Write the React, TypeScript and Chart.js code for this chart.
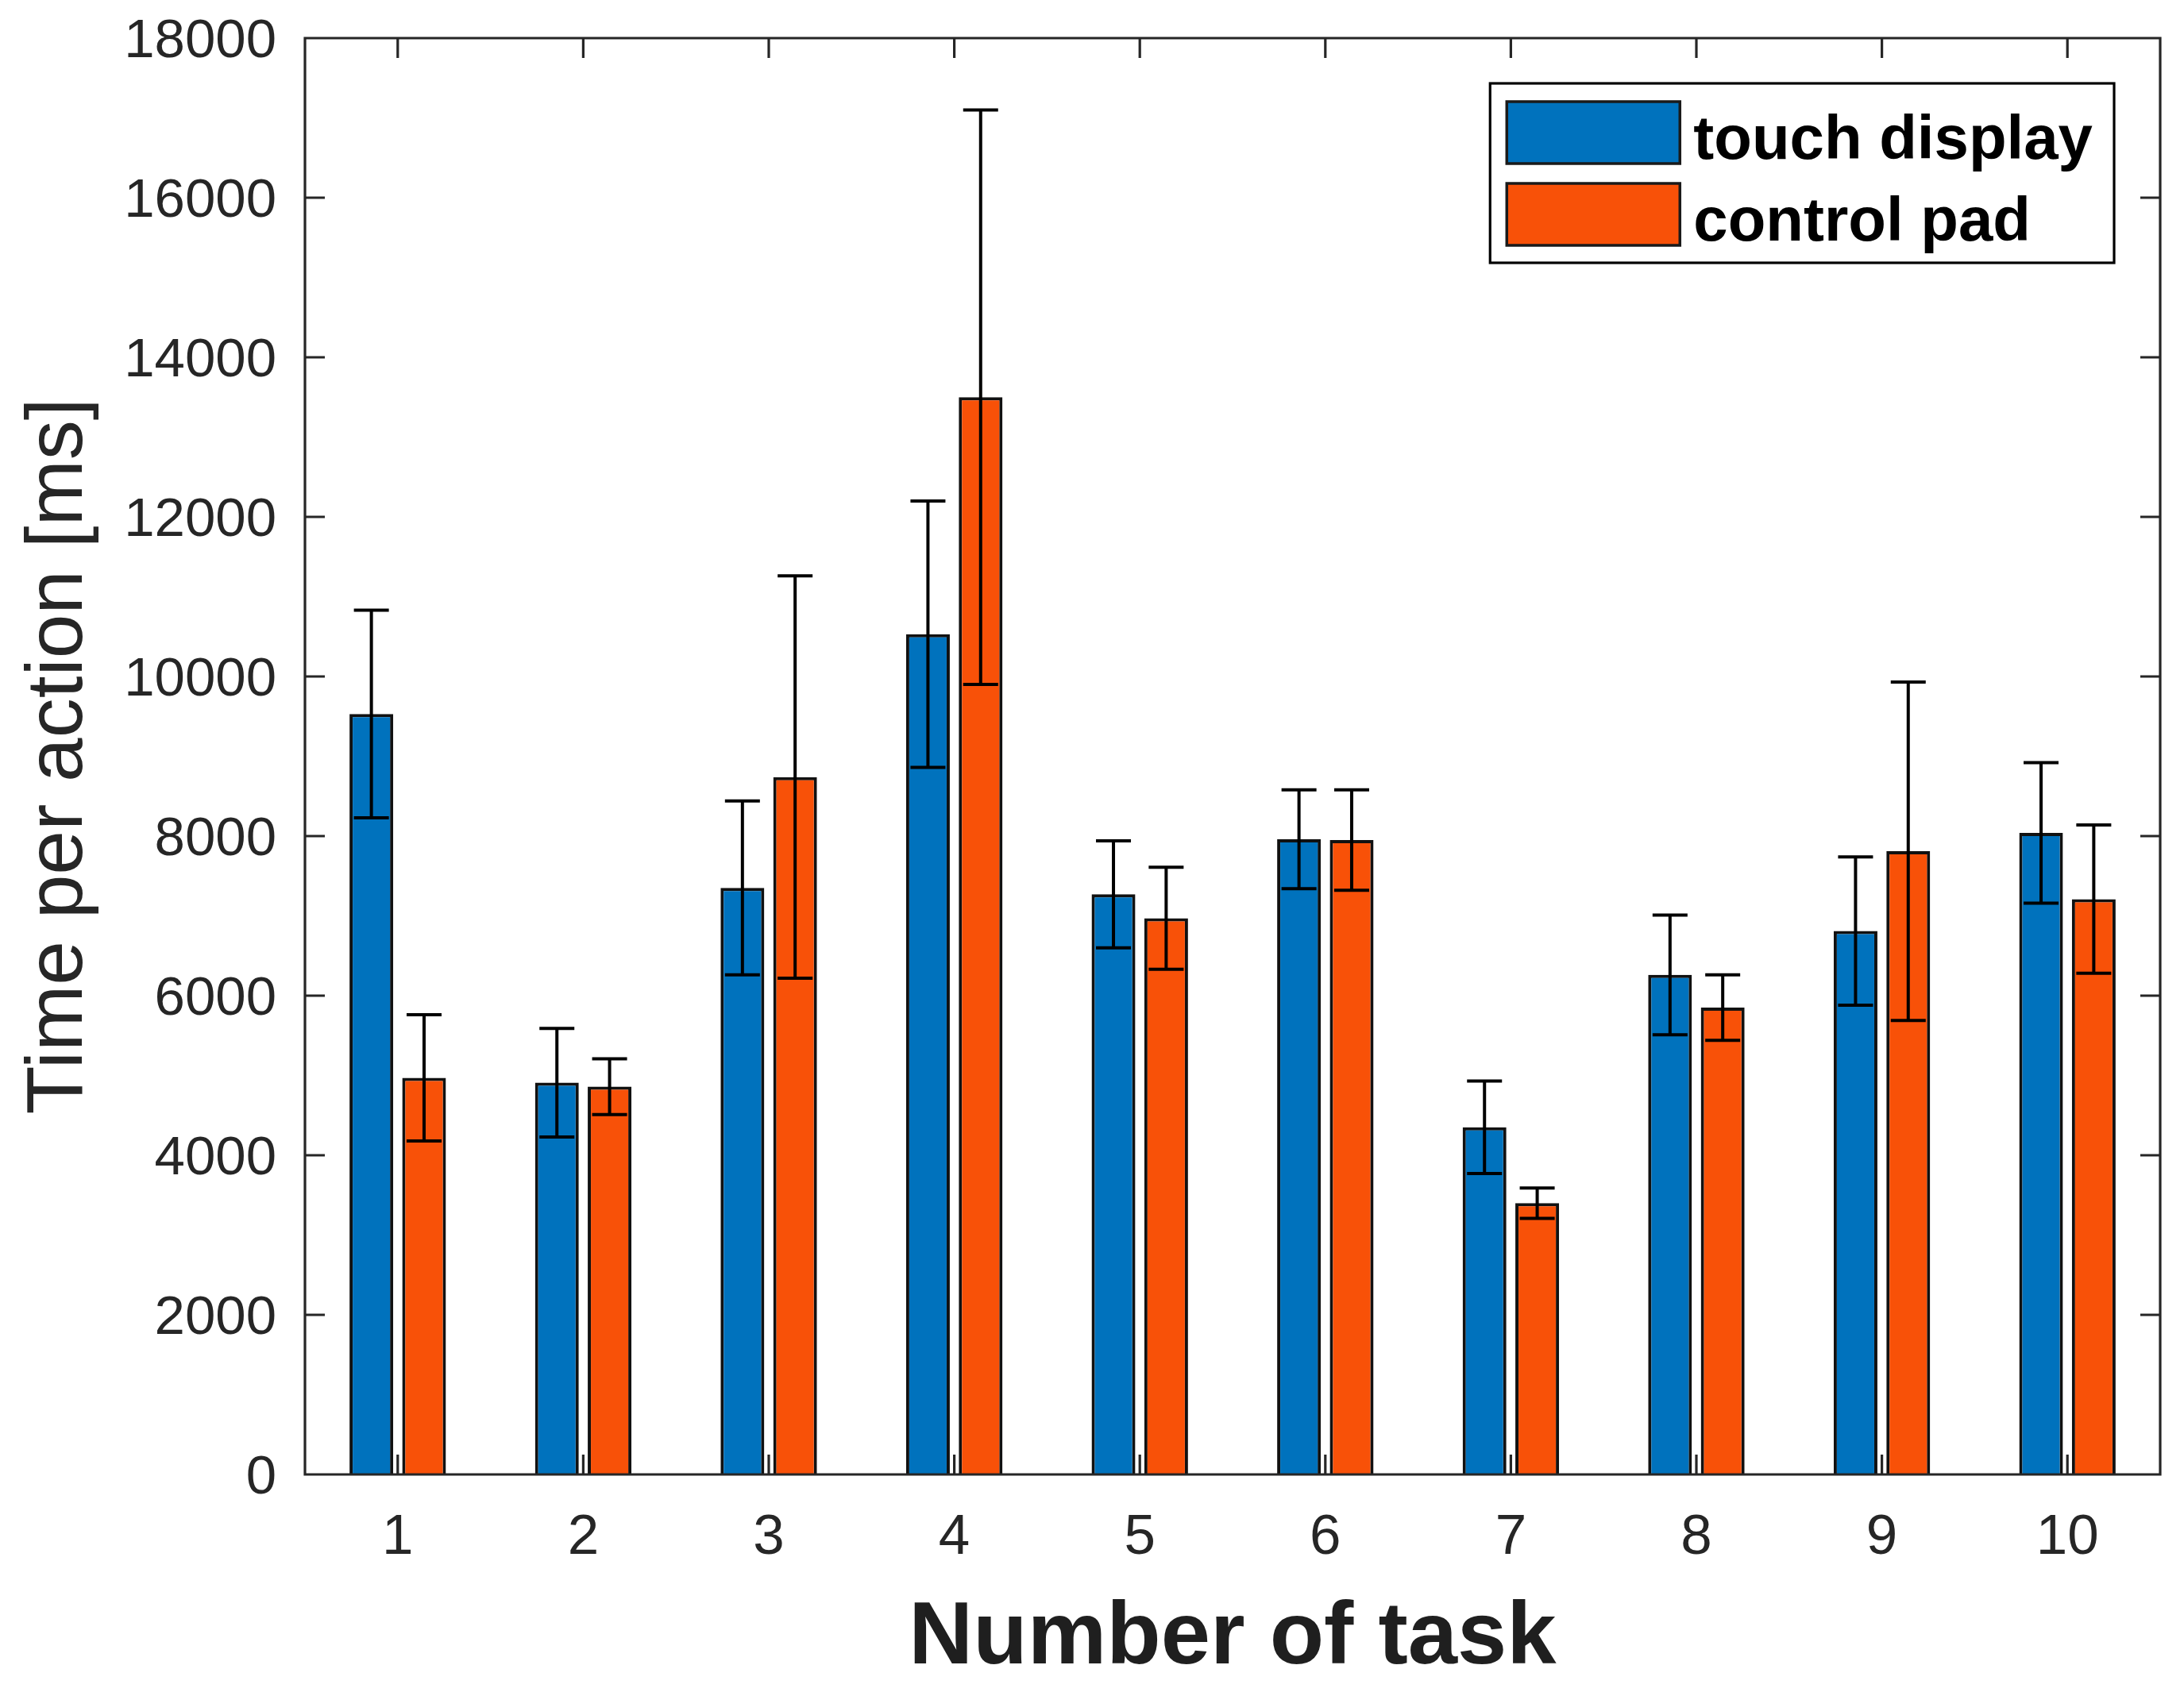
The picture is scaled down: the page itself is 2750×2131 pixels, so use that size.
import React, { useEffect, useRef } from "react";
import { Chart, registerables } from "chart.js";

Chart.register(...registerables);

// ---------- data ----------
const tasks = ["1", "2", "3", "4", "5", "6", "7", "8", "9", "10"];
const seriesNames = ["touch display", "control pad"];
const touchMeans = [9530, 4910, 7350, 10530, 7270, 7960, 4350, 6260, 6810, 8040];
const touchErr = [1300, 680, 1090, 1670, 670, 620, 580, 750, 930, 880];
const padMeans = [4970, 4860, 8740, 13500, 6970, 7950, 3400, 5850, 7810, 7210];
const padErr = [790, 350, 2520, 3600, 640, 630, 190, 410, 2120, 930];
const yMin = 0;
const yMax = 18000;
const yStep = 2000;
const seriesColors = ["#0072BD", "#F85108"];
const errors = [touchErr, padErr];

const FONT = "'Liberation Sans', Arial, Helvetica, sans-serif";
const AXIS_COLOR = "#262626";

const errorBarPlugin = {
  id: "errorBars",
  afterDatasetsDraw(chart: any) {
    const { ctx } = chart;
    const ys = chart.scales.y;
    chart.data.datasets.forEach((ds: any, di: number) => {
      const meta = chart.getDatasetMeta(di);
      const errs = errors[di];
      meta.data.forEach((bar: any, i: number) => {
        const v = ds.data[i];
        const e = errs[i];
        const x = bar.x;
        const yT = ys.getPixelForValue(v + e);
        const yB = ys.getPixelForValue(v - e);
        const cap = 22;
        ctx.save();
        ctx.strokeStyle = "#000";
        ctx.lineWidth = 4;
        ctx.beginPath();
        ctx.moveTo(x, yT);
        ctx.lineTo(x, yB);
        ctx.moveTo(x - cap, yT);
        ctx.lineTo(x + cap, yT);
        ctx.moveTo(x - cap, yB);
        ctx.lineTo(x + cap, yB);
        ctx.stroke();
        ctx.restore();
      });
    });
  },
};

const framePlugin = {
  id: "frame",
  afterDraw(chart: any) {
    const { ctx, chartArea: a } = chart;
    const xs = chart.scales.x;
    const ys = chart.scales.y;
    const tl = 25;
    ctx.save();
    ctx.strokeStyle = AXIS_COLOR;
    ctx.lineWidth = 3.2;
    ctx.beginPath();
    ctx.rect(a.left, a.top, a.right - a.left, a.bottom - a.top);
    xs.ticks.forEach((_t: any, i: number) => {
      const px = xs.getPixelForTick(i);
      ctx.moveTo(px, a.bottom);
      ctx.lineTo(px, a.bottom - tl);
      ctx.moveTo(px, a.top);
      ctx.lineTo(px, a.top + tl);
    });
    ys.ticks.forEach((_t: any, i: number) => {
      const py = ys.getPixelForTick(i);
      ctx.moveTo(a.left, py);
      ctx.lineTo(a.left + tl, py);
      ctx.moveTo(a.right, py);
      ctx.lineTo(a.right - tl, py);
    });
    ctx.stroke();
    ctx.restore();
  },
};

const legendPlugin = {
  id: "boxLegend",
  afterDraw(chart: any) {
    const { ctx, chartArea: a } = chart;
    const fontSize = 78;
    ctx.save();
    ctx.font = `bold ${fontSize}px ${FONT}`;
    const labels = chart.data.datasets.map((d: any) => d.label);
    const textW = Math.max(...labels.map((l: string) => ctx.measureText(l).width));
    const padL = 21;
    const swW = 218;
    const swH = 78;
    const gap = 17;
    const padR = 27;
    const rowGap = 103;
    const boxW = padL + swW + gap + textW + padR;
    const boxH = 226;
    const right = a.right - 58;
    const top = a.top + 57;
    const left = right - boxW;
    ctx.fillStyle = "#fff";
    ctx.fillRect(left, top, boxW, boxH);
    ctx.strokeStyle = "#000";
    ctx.lineWidth = 3.2;
    ctx.strokeRect(left, top, boxW, boxH);
    chart.data.datasets.forEach((d: any, i: number) => {
      const cy = top + 62 + i * rowGap;
      ctx.fillStyle = d.backgroundColor;
      ctx.fillRect(left + padL, cy - swH / 2, swW, swH);
      ctx.strokeStyle = "#1a1a1a";
      ctx.lineWidth = 3.5;
      ctx.strokeRect(left + padL, cy - swH / 2, swW, swH);
      ctx.fillStyle = "#000";
      ctx.textBaseline = "alphabetic";
      ctx.textAlign = "left";
      ctx.fillText(d.label, left + padL + swW + gap, cy + 33);
    });
    ctx.restore();
  },
};

export default function App() {
  const ref = useRef<HTMLCanvasElement | null>(null);

  useEffect(() => {
    if (!ref.current) return;
    const chart = new Chart(ref.current, {
      type: "bar",
      data: {
        labels: tasks,
        datasets: [
          {
            label: seriesNames[0],
            data: touchMeans,
            backgroundColor: seriesColors[0],
            borderColor: "#111",
            borderWidth: 4,
            categoryPercentage: 0.568,
            barPercentage: 0.83,
          },
          {
            label: seriesNames[1],
            data: padMeans,
            backgroundColor: seriesColors[1],
            borderColor: "#111",
            borderWidth: 4,
            categoryPercentage: 0.568,
            barPercentage: 0.83,
          },
        ],
      },
      options: {
        responsive: false,
        animation: false,
        devicePixelRatio: 1,
        layout: { padding: { top: 48, right: 30, left: 0, bottom: 0 } },
        plugins: {
          legend: { display: false },
          tooltip: { enabled: false },
        },
        scales: {
          x: {
            grid: { display: false, drawTicks: false, tickLength: 0 },
            border: { display: false },
            ticks: {
              color: AXIS_COLOR,
              font: { family: FONT, size: 71 },
              padding: 38,
              maxRotation: 0,
            },
            title: {
              display: true,
              text: "Number of task",
              color: "#1f1f1f",
              font: { family: FONT, size: 112, weight: "bold" },
              padding: { top: 0, bottom: 0 },
            },
            afterFit: (s: any) => {
              s.height = 274;
              s.paddingLeft = 0;
              s.paddingRight = 0;
            },
          },
          y: {
            min: yMin,
            max: yMax,
            grid: { display: false, drawTicks: false, tickLength: 0 },
            border: { display: false },
            ticks: {
              stepSize: yStep,
              color: AXIS_COLOR,
              font: { family: FONT, size: 69 },
              padding: 36,
              labelOffset: 5,
              callback: (v: any) => String(v),
            },
            title: {
              display: true,
              text: "Time per action [ms]",
              color: AXIS_COLOR,
              font: { family: FONT, size: 100 },
              padding: { top: 15, bottom: 0 },
            },
            afterFit: (s: any) => {
              s.width = 384;
              s.paddingTop = 0;
              s.paddingBottom = 0;
            },
          },
        },
      } as any,
      plugins: [errorBarPlugin, framePlugin, legendPlugin],
    });
    return () => chart.destroy();
  }, []);

  return (
    <div style={{ position: "absolute", left: 0, top: 0, width: 2750, height: 2131, background: "#fff" }}>
      <canvas ref={ref} width={2750} height={2131} style={{ display: "block" }} />
    </div>
  );
}
